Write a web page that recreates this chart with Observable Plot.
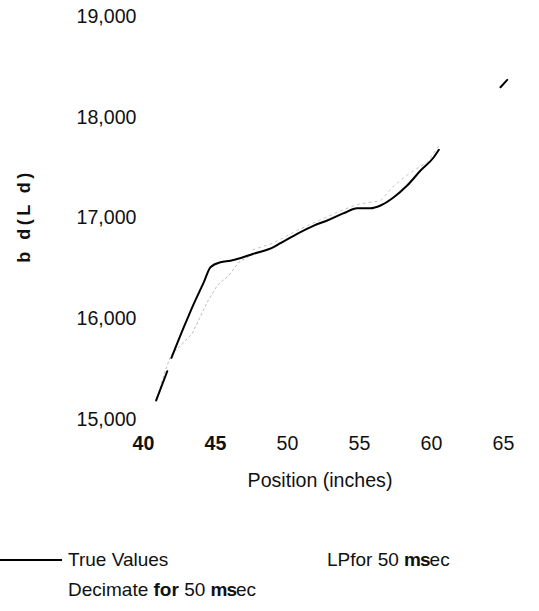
<!DOCTYPE html>
<html>
<head>
<meta charset="utf-8">
<script src="https://cdn.jsdelivr.net/npm/d3@7"></script>
<script src="https://cdn.jsdelivr.net/npm/@observablehq/plot@0.6"></script>
<style>
  html, body { margin: 0; padding: 0; background: #fff; }
  body { width: 539px; height: 611px; overflow: hidden; font-family: "Liberation Sans", Arial, sans-serif; }
  #legend { position: relative; width: 539px; height: 111px; font-size: 19px; color: #111; }
  #legend .item { position: absolute; line-height: 22px; white-space: nowrap; }
  #legend .swatch { position: absolute; height: 2px; background: #000; }
</style>
</head>
<body>
<div id="chart"></div>
<div id="legend"></div>
<script>
// True values (black line); null marks a gap in the trace
const trueX = [40.88, 41.65, 41.8, 41.94, 42.80, 43.49, 44.19, 44.65, 45.35, 46.04, 47.64, 49.03, 49.51, 50.67, 51.83, 52.76, 53.91, 54.84, 55.76, 56.46, 57.38, 58.31, 59.24, 60.16, 60.51, 62.5, 64.79, 65.26];
const trueY = [15189, 15479, null, 15612, 15916, 16148, 16363, 16512, 16561, 16575, 16645, 16710, 16750, 16843, 16925, 16975, 17048, 17097, 17097, 17124, 17206, 17322, 17471, 17603, 17677, null, 18298, 18371];

// Decimate for 50 msec (light grey)
const decX = [40.95, 41.5, 41.9, 42.6, 43.38, 44.42, 45.12, 45.92, 46.62, 47.6];
const decY = [15220, 15480, 15635, 15740, 15851, 16164, 16330, 16429, 16561, 16640];

// LP for 50 msec (light grey)
const lpX = [47.6, 49.0, 50.7, 52.8, 54.0, 55.0, 56.46, 57.38, 58.08, 58.89, 59.70, 60.51];
const lpY = [16655, 16720, 16850, 16985, 17060, 17110, 17141, 17290, 17372, 17454, 17521, 17687];

const yTicks = [15000, 16000, 17000, 18000, 19000];
const xTicksBold = [40, 45];
const xTicksPlain = [50, 55, 60, 65];
const xLabel = "Position (inches)";
const yLabel = "b d(L d)";
const legendTrue = "True Values";

const trueData = trueX.map((x, i) => ({x, y: trueY[i]}));
const decData = decX.map((x, i) => ({x, y: decY[i]}));
const lpData = lpX.map((x, i) => ({x, y: lpY[i]}));

const font = "Liberation Sans, Arial, sans-serif";

const plot = Plot.plot({
  width: 539,
  height: 500,
  marginLeft: 143,
  marginRight: 36,
  marginTop: 16,
  marginBottom: 81,
  style: {fontFamily: font, fontSize: "19.6px", color: "#111", background: "#fff"},
  x: {domain: [40, 65]},
  y: {domain: [15000, 19000]},
  marks: [
    Plot.axisY({ticks: yTicks, tickSize: 0, tickPadding: 7, tickFormat: d3.format(","), label: null, fontSize: 19.6}),
    Plot.axisX({ticks: xTicksBold, tickSize: 0, tickPadding: 17, label: null, fontWeight: "bold", fontSize: 19.6}),
    Plot.axisX({ticks: xTicksPlain, tickSize: 0, tickPadding: 17, label: null, fontSize: 19.6}),
    Plot.line(decData, {x: "x", y: "y", stroke: "#bdbdbd", strokeWidth: 1, strokeDasharray: "2,3"}),
    Plot.line(lpData, {x: "x", y: "y", stroke: "#c4c4c4", strokeWidth: 1, strokeDasharray: "2,4", dy: -3}),
    Plot.line(trueData, {x: "x", y: "y", stroke: "#000", strokeWidth: 2, curve: "monotone-x"}),
    Plot.text([xLabel], {frameAnchor: "bottom", lineAnchor: "middle", dy: 61, dx: -3.5, fontSize: 19.6, fill: "#111"}),
    Plot.text([yLabel], {frameAnchor: "left", textAnchor: "middle", lineAnchor: "middle", rotate: -90, dx: -119, dy: -2, fontSize: 18, fontWeight: "bold", fill: "#111", render: (i, s, v, d, c, next) => { const g = next(i, s, v, d, c); g.querySelectorAll("text").forEach(t => t.setAttribute("letter-spacing", "3.5")); return g; }})
  ]
});
document.getElementById("chart").appendChild(plot);

const legend = document.getElementById("legend");
legend.innerHTML = `
  <div class="swatch" style="left:0;top:59px;width:62px"></div>
  <div class="item" style="left:68px;top:49px">${legendTrue}</div>
  <div class="item" style="left:327px;top:49px">LPfor 50 <span style="font-weight:bold;letter-spacing:-1px">ms</span>ec</div>
  <div class="item" style="left:68px;top:79px">Decimate<b> for</b> 50 <span style="font-weight:bold;letter-spacing:-1px">ms</span>ec</div>
`;
</script>
</body>
</html>
